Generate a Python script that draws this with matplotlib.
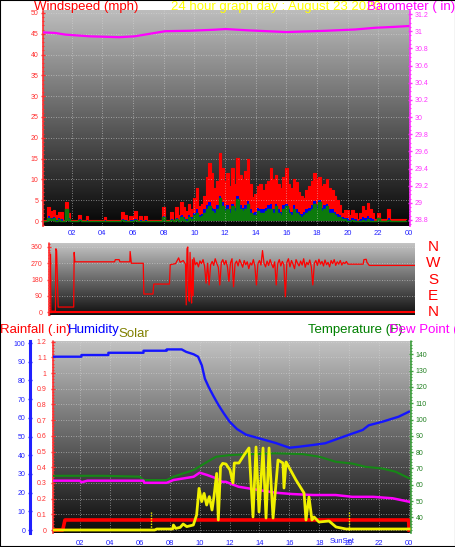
import numpy as np
import matplotlib
matplotlib.use("Agg")
from matplotlib import pyplot as plt
from matplotlib.patches import Rectangle
from matplotlib.ticker import MultipleLocator, FixedLocator

plt.rcParams['font.family'] = ['Liberation Sans', 'DejaVu Sans']

W, H = 456, 547

# ---- data ---------------------------------------------------------------
title = "24 hour graph day : August 23 2020"
hour_labels = ['02', '04', '06', '08', '10', '12', '14', '16', '18', '20', '22', '00']

# windspeed (mph), 10 minute samples
gust = [0.3, 0.3, 0.3, 3.4, 2.5, 2.7, 1.5, 2.2, 2.2, 0.3, 4.6, 2.0,
        0.3, 0.3, 0.3, 1.4, 0.3, 0.3, 1.3, 0.3, 0.3, 0.3, 0.3, 0.3,
        0.3, 1.0, 0.3, 0.3, 0.3, 0.3, 0.3, 0.3, 2.2, 1.5, 0.3, 1.2,
        1.2, 2.5, 0.3, 1.2, 0.3, 1.2, 0.3, 0.3, 0.3, 0.3, 0.3, 0.3,
        3.4, 0.3, 0.3, 2.2, 0.3, 3.3, 1.5, 4.6, 3.3, 2.5, 4.0, 3.0,
        5.5, 7.9, 3.5, 4.2, 6.0, 10.5, 14.0, 11.5, 8.0, 9.5, 16.4, 12.8,
        9.5, 11.6, 8.5, 12.8, 9.0, 15.2, 11.0, 10.0, 12.0, 15.0, 9.0, 5.8,
        6.5, 8.5, 9.0, 7.5, 8.8, 9.5, 12.8, 10.0, 11.0, 9.0, 8.0, 10.5,
        12.8, 9.0, 8.0, 10.0, 9.4, 7.0, 6.0, 5.5, 7.5, 8.5, 9.5, 11.5,
        10.0, 10.6, 8.5, 9.0, 10.0, 8.0, 7.5, 6.0, 5.0, 3.9, 2.0, 2.7,
        2.7, 1.5, 2.7, 1.9, 0.5, 2.0, 3.5, 2.7, 4.3, 3.0, 2.0, 0.5,
        2.0, 0.5, 0.5, 0.5, 3.0, 0.5, 0.5, 0.5, 0.5, 0.5, 0.5, 0.5]
wind_mid = [0, 0, 0, 1.2, 0.8, 1.0, 0.3, 0.8, 0.5, 0, 3.0, 0.8,
            0, 0, 0, 0.5, 0, 0, 0.3, 0, 0, 0, 0, 0,
            0, 0.3, 0, 0, 0, 0, 0, 0, 0.5, 0.3, 0, 0.2,
            0.2, 0.5, 0, 0.2, 0, 0.2, 0, 0, 0, 0, 0, 0,
            1.2, 0, 0, 0.5, 0, 0.8, 0.3, 1.5, 1.0, 0.5, 1.5, 1.0,
            2.0, 2.8, 1.5, 1.8, 2.8, 3.8, 4.5, 3.2, 2.8, 3.8, 6.0, 4.5,
            3.2, 3.8, 2.8, 4.2, 3.2, 6.0, 3.8, 3.2, 3.8, 4.8, 2.8, 2.0,
            2.2, 3.2, 2.8, 2.8, 3.2, 3.8, 4.0, 2.8, 4.2, 2.8, 2.2, 3.8,
            4.2, 2.8, 2.2, 3.8, 2.8, 2.2, 1.8, 2.2, 2.8, 3.2, 3.8, 4.8,
            3.8, 5.0, 3.2, 3.8, 4.2, 2.8, 2.8, 2.2, 1.8, 1.5, 1.0, 0.8,
            0.8, 0.3, 0.8, 0.5, 0, 0.5, 1.0, 0.8, 1.2, 0.8, 0.5, 0,
            0.8, 0, 0, 0, 0.8, 0, 0, 0, 0, 0, 0, 0]
wind_avg = [0, 0, 0, 0.8, 0.5, 0.8, 0, 0.5, 0, 0, 2.8, 0.5,
            0, 0, 0, 0.3, 0, 0, 0, 0, 0, 0, 0, 0,
            0, 0, 0, 0, 0, 0, 0, 0, 0.3, 0, 0, 0,
            0, 0.3, 0, 0, 0, 0, 0, 0, 0, 0, 0, 0,
            1.0, 0, 0, 0.3, 0, 0.5, 0, 1.0, 0.5, 0, 1.0, 0.5,
            1.5, 2.0, 1.0, 1.2, 2.0, 3.0, 3.5, 2.5, 2.0, 3.0, 5.5, 3.5,
            2.5, 3.0, 2.0, 3.5, 2.5, 5.3, 3.0, 2.5, 3.0, 4.0, 2.0, 1.5,
            1.5, 2.5, 2.0, 2.0, 2.5, 3.0, 3.0, 2.0, 3.5, 2.0, 1.5, 3.0,
            3.5, 2.0, 1.5, 3.0, 2.0, 1.5, 1.0, 1.5, 2.0, 2.5, 3.0, 4.0,
            3.0, 4.5, 2.5, 3.0, 3.5, 2.0, 2.0, 1.5, 1.0, 1.0, 0.5, 0.5,
            0, 0, 0.3, 0, 0, 0, 0.3, 0, 0.5, 0, 0, 0,
            0.8, 0, 0, 0, 0.3, 0, 0, 0, 0, 0, 0, 0]

baro_hours = [0.1, 0.9, 1.6, 3.2, 5.1, 6.1, 7.1, 8.1, 9.7, 11.3, 12.05, 13.5,
              16.0, 18.6, 20.5, 21.8, 23.0, 24.0]
baro_vals = [30.986, 30.98, 30.96, 30.94, 30.93, 30.94, 30.97, 31.0, 31.005,
             31.017, 31.025, 31.01, 30.99, 31.005, 31.02, 31.04, 31.05, 31.06]

# wind direction (deg)
dir_hours_a = [0.05, 0.1, 0.12, 0.42, 0.45, 0.5, 0.6, 1.62, 1.65, 1.7, 4.3, 4.35,
               4.6, 4.65, 5.3, 5.32, 5.4, 6.18, 6.22, 6.82, 6.87, 7.9, 7.95, 8.3,
               8.5, 8.6, 8.8, 8.95, 9.0, 9.05, 9.1, 9.15, 9.2, 9.25, 9.3, 9.35,
               9.4, 9.45]
dir_vals_a = [320, 320, 5, 5, 350, 340, 28, 28, 330, 278, 278, 290,
              290, 278, 278, 335, 270, 270, 100, 100, 155, 155, 262, 268,
              300, 275, 285, 265, 40, 350, 360, 80, 60, 330, 120, 50,
              290, 90]
dir_noisy = [300, 262, 275, 250, 283, 268, 290, 255, 160, 270, 150, 262, 280, 258,
             295, 270, 248, 150, 275, 290, 262, 285, 250, 170, 272, 295, 140, 268,
             282, 255, 290, 270, 248, 285, 262, 278, 240, 272, 260, 290, 255, 150,
             268, 285, 260, 340, 270, 250, 282, 258, 290, 265, 245, 278, 150, 268,
             290, 255, 280, 262, 85, 275, 295, 250, 285, 265, 240, 290, 270, 255,
             282, 260, 295, 248, 275, 262, 288, 250, 150, 270, 285, 258, 292, 265,
             280, 255, 288, 262, 275, 250, 285, 268, 290, 258, 278, 265, 285, 260,
             275, 268, 280]
dir_hours_b = [19.6, 20.6, 20.65, 20.8, 20.85, 21.0, 24.0]
dir_vals_b = [265, 265, 290, 292, 275, 258, 258]

# bottom panel
hum_hours = [0.2, 2.1, 2.1, 3.9, 3.9, 6.25, 6.25, 7.8, 7.8, 8.8, 9.1, 9.6, 9.9,
             10.15, 10.35, 10.6, 10.9, 11.25, 11.6, 12.0, 12.5, 13.1, 14.0, 15.1,
             16.0, 16.6, 17.6, 18.4, 19.3, 20.25, 20.9, 21.3, 22.25, 23.3, 24.0]
hum_vals = [92.7, 92.7, 93.6, 93.6, 94.8, 94.8, 95.9, 95.9, 96.6, 96.6, 95.3, 94.0,
            92.7, 88, 81, 76.6, 72, 67, 62.6, 58, 54, 51, 49, 46.5, 44, 44.5,
            45.5, 46.4, 49, 51.7, 53.5, 56, 58, 60.6, 63.3]

temp_hours = [0.2, 3.5, 6.0, 6.25, 7.8, 8.25, 9.6, 10.5, 11.1, 12.0, 13.5, 15.1,
              16.9, 18.0, 19.1, 20.2, 21.1, 22.2, 23.1, 24.0]
temp_vals = [65.5, 65.5, 65.0, 62.9, 62.9, 65.0, 69.0, 74.0, 77.2, 78.2, 78.8,
             79.3, 78.8, 77.2, 74.1, 73.0, 71.0, 70.0, 68.0, 64.0]

dew_hours = [0.2, 2.0, 2.1, 2.5, 6.25, 6.3, 7.8, 8.25, 9.6, 10.0, 10.5, 11.1,
             11.5, 11.76, 12.0, 12.6, 14.0, 15.1, 16.2, 17.6, 19.1, 20.2, 21.6,
             22.9, 24.0]
dew_vals = [62.5, 62.5, 61.5, 62.5, 62.5, 61.2, 61.2, 62.9, 64.9, 67.4, 66.0, 64.0,
            61.8, 61.8, 60.9, 58.8, 56.7, 55.1, 54.3, 53.7, 53.7, 52.6, 52.6,
            51.7, 49.6]

rain_hours = [0.2, 0.85, 1.0, 23.97, 24.0]
rain_vals = [0, 0, 0.064, 0.064, 0]

solar_hours = [0.2, 7.0, 7.13, 8.2, 8.25, 8.4, 8.7, 8.9, 9.14, 9.58, 9.8, 9.96,
               10.14, 10.3, 10.47, 10.65, 10.83, 10.96, 11.14, 11.25, 11.4, 11.54,
               11.76, 12.03, 12.23, 12.32, 12.63, 12.97, 13.3, 13.57, 13.77, 13.97,
               14.24, 14.44, 14.64, 14.91, 15.24, 15.57, 15.64, 15.78, 16.44, 16.98,
               17.11, 17.31, 17.51, 17.65, 17.98, 18.65, 19.12, 19.79, 24.0]
solar_vals = [0, 0, 5, 5, 25, 8, 13, 30, 17, 25, 75, 208, 142, 183, 125, 167, 100,
              167, 283, 50, 317, 333, 330, 300, 235, 335, 335, 375, 410, 65, 415,
              90, 410, 60, 410, 60, 350, 335, 210, 340, 250, 185, 50, 165, 50, 65,
              40, 45, 15, 5, 5]

sun_events = [6.73, 20.0]   # sunrise, sunset

# ---- helpers -------------------------------------------------------------
def box(x0, y0, x1, y1):
    return [x0 / W, 1 - y1 / H, (x1 - x0) / W, (y1 - y0) / H]


def panel(fig, rect, top, bottom):
    # gradient background drawn in its own axes underneath
    bg = fig.add_axes(rect, zorder=0)
    g = np.linspace(top, bottom, 256)[:, None]
    bg.imshow(np.dstack([g, g, g]), extent=(0, 1, 0, 1), aspect='auto',
              interpolation='bilinear')
    bg.set_xlim(0, 1)
    bg.set_ylim(0, 1)
    bg.axis('off')
    ax = fig.add_axes(rect, zorder=1)
    ax.patch.set_alpha(0)
    for s in ax.spines.values():
        s.set_visible(False)
    return ax


def style_axis(ax, side, color, major, minor, fmt=None, pad=2.5):
    sp = ax.spines[side]
    sp.set_visible(True)
    sp.set_color(color)
    sp.set_linestyle((0, (1, 1)))
    sp.set_linewidth(1.2)
    ax.yaxis.set_major_locator(MultipleLocator(major))
    ax.yaxis.set_minor_locator(MultipleLocator(minor))
    ax.tick_params(axis='y', which='major', colors=color, labelsize=5,
                   length=3, width=1, pad=pad, direction='inout')
    ax.tick_params(axis='y', which='minor', colors=color, length=2, width=0.8,
                   direction='inout')
    if fmt:
        ax.yaxis.set_major_formatter(fmt)


def hours_axis(ax, labels, pad):
    ax.set_xticks(range(2, 25, 2))
    ax.set_xticklabels(labels)
    ax.tick_params(axis='x', length=0, colors='#2020ff', labelsize=5.5, pad=pad)


grid_kw = dict(color='#d8d8d8', ls=(0, (1, 2)), lw=0.6, alpha=0.7)
fig = plt.figure(figsize=(W / 100, H / 100), dpi=100)
fig.patch.set_facecolor('white')

# ---- top: windspeed + barometer -----------------------------------------
rect = box(43, 10, 410, 226)
ax = panel(fig, rect, 0.74, 0.02)
wind_hours = np.arange(len(gust)) / 6
ax.fill_between(wind_hours, gust, step='mid', color='#ff0000', lw=0)
ax.step(wind_hours, gust, where='mid', color='#ff0000', lw=0.8)
ax.fill_between(wind_hours, wind_mid, step='mid', color='#0000ee', lw=0)
ax.fill_between(wind_hours, wind_avg, step='mid', color='#0c7a0c', lw=0)
ax.step(wind_hours, wind_avg, where='mid', color='#0c7a0c', lw=1)
ax.set_xlim(0.13, 24.07)
ax.set_ylim(-1.2, 50.7)
style_axis(ax, 'left', '#ff3030', 5, 1, pad=2)
hours_axis(ax, hour_labels, 3)
ax.grid(True, **grid_kw)

axb = ax.twinx()
axb.set_zorder(2)
for s in axb.spines.values():
    s.set_visible(False)
axb.plot(baro_hours, baro_vals, color='#ff00ff', lw=1.6)
axb.set_ylim(28.73, 31.247)
style_axis(axb, 'right', '#ff30ff', 0.2, 0.05,
           fmt=lambda v, p: f"{round(v, 1):g}", pad=2)

# ---- middle: wind direction ---------------------------------------------
rect = box(49, 243, 415, 315)
axm = panel(fig, rect, 0.78, 0.06)
dir_hours = dir_hours_a + [round(9.5 + 0.1 * k, 2) for k in range(len(dir_noisy))] + dir_hours_b
dir_vals = dir_vals_a + dir_noisy + dir_vals_b
axm.plot(dir_hours, dir_vals, color='#ff0000', lw=0.9)
axm.axhline(3, color='#ff0000', lw=1.5)
axm.set_xlim(0, 24)
axm.set_ylim(-16, 382)
axm.set_xticks(range(2, 25, 2))
axm.set_xticklabels([])
axm.tick_params(axis='x', length=0)
style_axis(axm, 'left', '#ff3030', 90, 15, pad=3)
axm.yaxis.set_major_locator(FixedLocator([0, 90, 180, 270, 360]))
axm.grid(True, axis='y', **grid_kw)
for letter, deg in zip(['N', 'W', 'S', 'E', 'N'], [360, 270, 180, 90, 0]):
    axm.text(1.049, deg, letter, transform=axm.get_yaxis_transform(), color='#ff0000',
             fontsize=11, ha='center', va='center')

# ---- bottom: rain, humidity, solar, temperature ---------------------------
rect = box(53, 341, 411, 533)
axr = panel(fig, rect, 0.76, 0.04)
axr.set_xlim(0.2, 24.13)
axr.set_ylim(-0.019, 1.204)
style_axis(axr, 'left', '#ff3030', 0.1, 0.02,
           fmt=lambda v, p: f"{round(v, 1):g}", pad=3)
hours_axis(axr, hour_labels, 5)
axr.grid(True, **grid_kw)

axh = axr.twinx()
for s in axh.spines.values():
    s.set_visible(False)
axh.yaxis.tick_left()
axh.spines['left'].set_position(('outward', 16.5))
axh.set_ylim(-1.6, 101.1)
style_axis(axh, 'left', '#2020ff', 10, 2, pad=2)
axh.spines['left'].set_linestyle('-')
axh.spines['left'].set_linewidth(2.2)

axt = axr.twinx()
for s in axt.spines.values():
    s.set_visible(False)
axt.set_ylim(30.4, 148.2)
style_axis(axt, 'right', '#40a040', 10, 2, pad=2)
axt.set_yticks(range(40, 141, 10))
axt.tick_params(axis='y', labelcolor='#208020')

axs = axr.twinx()
axs.set_ylim(-15, 945)
axs.axis('off')

axr.plot(rain_hours, rain_vals, color='#ff0000', lw=2.6, zorder=3)
axh.plot(hum_hours, hum_vals, color='#1515ff', lw=1.7)
axt.plot(temp_hours, temp_vals, color='#168816', lw=1.5)
axt.plot(dew_hours, dew_vals, color='#ff00ff', lw=1.8)
axs.plot(solar_hours, solar_vals, color='#f0f000', lw=2.0)
axs.vlines(sun_events, 0, 90, color='#f0f000', lw=1, linestyles=(0, (1, 1)))
axr.text(19.5, -0.05, 'SunSet', color='#2020ff', fontsize=5.5, ha='center', va='top',
         transform=axr.transData, clip_on=False)

# ---- texts --------------------------------------------------------------
def ftext(x, y, s, color, size=9.5, **kw):
    fig.text(x / W, 1 - y / H, s, color=color, fontsize=size, va='baseline', **kw)


ftext(34, 10, 'Windspeed (mph)', '#ff0000')
ftext(171, 10, title, '#ffff00')
ftext(367, 10, 'Barometer ( in)', '#ff00ff')
ftext(0, 333, 'Rainfall (.in)', '#ff0000')
ftext(68, 333, 'Humidity', '#0000ff')
ftext(118, 337, 'Solar', '#808000')
ftext(308, 333, 'Temperature (F)', '#008000')
ftext(389, 333, 'Dew Point (', '#ff00ff')

fig.add_artist(Rectangle((0, 0), 1, 1, transform=fig.transFigure, fill=False,
                         ec='black', lw=1.5))

fig.savefig('out.png', dpi=100, facecolor='white')
